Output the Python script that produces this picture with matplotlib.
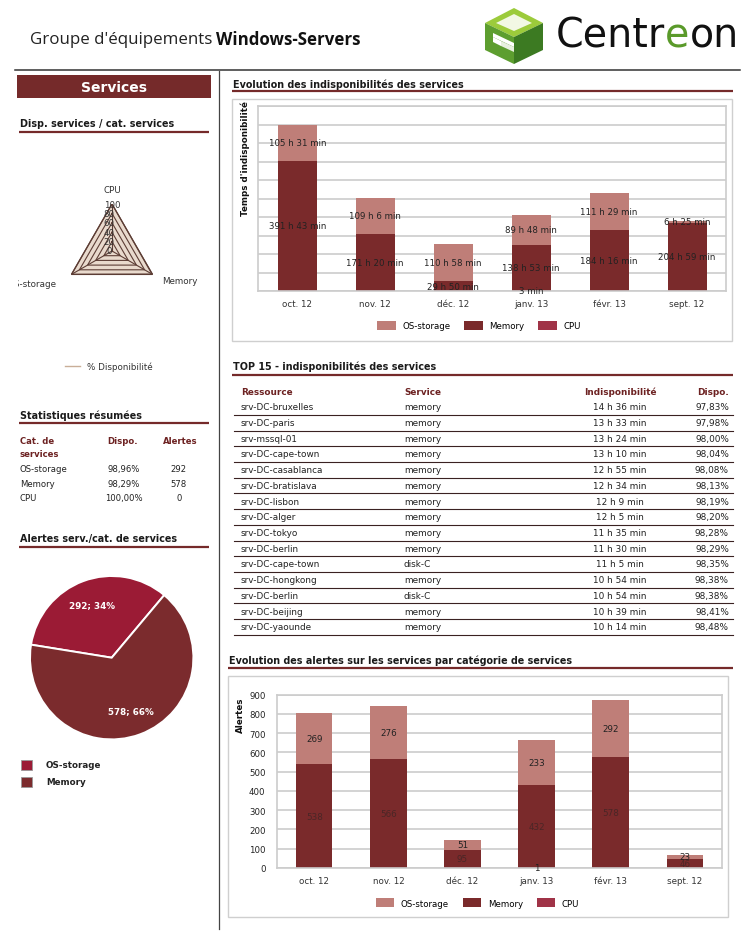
import numpy as np
import matplotlib
matplotlib.use("Agg")
import matplotlib.pyplot as plt
from matplotlib.patches import Rectangle, Polygon, Patch
from matplotlib.transforms import Bbox, offset_copy

W, H = 753, 937

# ---------------- data ----------------
months = ["oct. 12", "nov. 12", "déc. 12", "janv. 13", "févr. 13", "sept. 12"]
categories = ["OS-storage", "Memory", "CPU"]
# downtime in minutes per category
down_cpu = [0, 0, 0, 3, 0, 0]
down_mem = [23503, 10280, 1790, 8333, 11056, 12299]
down_os = [6331, 6546, 6658, 5388, 6689, 385]
# alerts per category
alert_cpu = [0, 0, 0, 1, 0, 0]
alert_mem = [538, 566, 95, 432, 578, 46]
alert_os = [269, 276, 51, 233, 292, 23]
# summary stats
stat_avail = ["98,96%", "98,29%", "100,00%"]
stat_alerts = [292, 578, 0]
# radar
radar_cats = ["CPU", "Memory", "OS-storage"]
radar_vals = [100.00, 98.29, 98.96]
radar_ticks = [0, 20, 40, 60, 80, 100]
# top 15
top_res = ["srv-DC-bruxelles", "srv-DC-paris", "srv-mssql-01", "srv-DC-cape-town",
           "srv-DC-casablanca", "srv-DC-bratislava", "srv-DC-lisbon", "srv-DC-alger",
           "srv-DC-tokyo", "srv-DC-berlin", "srv-DC-cape-town", "srv-DC-hongkong",
           "srv-DC-berlin", "srv-DC-beijing", "srv-DC-yaounde"]
top_svc = ["memory"] * 10 + ["disk-C", "memory", "disk-C", "memory", "memory"]
top_down = ["14 h 36 min", "13 h 33 min", "13 h 24 min", "13 h 10 min", "12 h 55 min",
            "12 h 34 min", "12 h 9 min", "12 h 5 min", "11 h 35 min", "11 h 30 min",
            "11 h 5 min", "10 h 54 min", "10 h 54 min", "10 h 39 min", "10 h 14 min"]
top_avail = ["97,83%", "97,98%", "98,00%", "98,04%", "98,08%", "98,13%", "98,19%",
             "98,20%", "98,28%", "98,29%", "98,35%", "98,38%", "98,38%", "98,41%", "98,48%"]

# ---------------- style ----------------
C_OS = "#bf7e78"
C_MEM = "#7a2a2b"
C_CPU = "#a03347"
C_POS = "#9b1b35"
C_PMEM = "#7b2b2d"
DARK = "#752a2a"
HEAD = "#6d2222"
GRID = "#cccccc"
TXT = "#222222"

plt.rcParams["font.family"] = ["DejaVu Sans"]

fig = plt.figure(figsize=(W / 100, H / 100), dpi=100)
bg = fig.add_axes([0, 0, 1, 1])
bg.set_xlim(0, W)
bg.set_ylim(H, 0)
bg.axis("off")


def rect(l, t, r, b):
    return [l / W, 1 - b / H, (r - l) / W, (b - t) / H]


def section(x0, x1, y, text, uy):
    bg.text(x0 + 1, y, text, fontsize=6.9, fontweight="bold", color="#1a1a1a", va="center")
    bg.plot([x0, x1], [uy, uy], color=DARK, lw=1.6, solid_capstyle="butt")


# ---------------- header ----------------
renderer = fig.canvas.get_renderer()
t1 = bg.text(30, 40, "Groupe d'équipements", fontfamily="Open Sans", fontsize=12.2,
             va="center", color="#222")
bb = t1.get_window_extent(renderer=renderer)
bg.text(bb.x1 + 4, 40, "Windows-Servers", fontfamily="Open Sans", fontsize=12.2,
        fontweight="bold", va="center", color="#111")

# logo cube
cx = 514
top_face = [(cx, 9), (543, 24), (cx, 38), (485, 24)]
left_face = [(485, 24), (cx, 38), (cx, 65), (485, 51)]
right_face = [(cx, 38), (543, 24), (543, 51), (cx, 65)]
bg.add_patch(Polygon(top_face, closed=True, fc="#9ccb3b", ec="none"))
bg.add_patch(Polygon(left_face, closed=True, fc="#5d9e2f", ec="none"))
bg.add_patch(Polygon(right_face, closed=True, fc="#3c7a22", ec="none"))
bg.add_patch(Polygon([(cx, 15), (532, 24), (cx, 32), (496, 24)], closed=True, fc="#f2f8e4", ec="none"))
bg.add_patch(Polygon([(493, 34), (cx, 44), (cx, 48), (493, 38)], closed=True, fc="white", ec="none"))
bg.add_patch(Polygon([(501, 42), (cx, 48), (cx, 53), (501, 47)], closed=True, fc="#e8f0e0", ec="none"))
bg.add_patch(Polygon([(493, 38), (501, 42), (501, 47), (493, 43)], closed=True, fc="white", ec="none"))

xpos = 556
for part, col in [("Centr", "#111111"), ("e", "#5a9a2a"), ("on", "#111111")]:
    tt = bg.text(xpos, 37, part, fontsize=28.5, color=col, va="center", ha="left",
                 fontfamily="DejaVu Sans")
    xpos = tt.get_window_extent(renderer=renderer).x1

# frame lines
bg.plot([15, 740], [71, 71], color="#333", lw=1.1)
bg.plot([219, 219], [72, 930], color="#444", lw=0.9)

# ---------------- left column ----------------
bg.add_patch(Rectangle((17, 76), 194, 23, fc=DARK, ec="none"))
bg.text(114, 88, "Services", color="white", fontsize=10, fontweight="bold", ha="center", va="center")
section(19, 209, 124, "Disp. services / cat. services", 132.5)

# radar
axr = fig.add_axes(rect(65, 205, 159, 299), projection="polar")
axr.set_facecolor("none")
theta = np.deg2rad([90, -30, 210])
tc = np.append(theta, theta[0])
axr.set_ylim(0, 100)
axr.fill(tc, np.append(radar_vals, radar_vals[0]), color="#e9dacd", zorder=1)
for r in radar_ticks[1:]:
    axr.plot(tc, [r] * 4, color="#5c3d35", lw=0.8, zorder=2)
for t in theta:
    axr.plot([t, t], [0, 100], color="#5c3d35", lw=0.8, zorder=2)
axr.plot(tc, np.append(radar_vals, radar_vals[0]), color="#5c3d35", lw=0.9, zorder=3)
axr.grid(False)
axr.spines["polar"].set_visible(False)
axr.set_xticks([])
axr.set_yticks([])
for r in radar_ticks:
    tr = offset_copy(axr.transData, fig=fig, x=(0 if r == 100 else -3), y=0, units="dots")
    axr.text(np.pi / 2, r, str(r), transform=tr, ha="center", va="center", fontsize=6.2,
             color="#333", zorder=5, clip_on=False)
axr.text(theta[0], 130, radar_cats[0], ha="center", va="center", fontsize=6.3, color="#333", clip_on=False)
axr.text(theta[1], 124, radar_cats[1], ha="left", va="center", fontsize=6.3, color="#333", clip_on=False)
tos = fig.text(theta[2], 137, radar_cats[2], transform=axr.transData, ha="right", va="center",
               fontsize=6.3, color="#333", clip_on=True)
tos.set_clip_box(Bbox.from_extents(18, 0, 219, H))

bg.plot([65, 80], [367, 367], color="#c9ae98", lw=1)
bg.text(87, 367, "% Disponibilité", fontsize=6.3, va="center", color="#333")

# stats
section(19, 209, 415.5, "Statistiques résumées", 423.5)
bg.text(20, 441.5, "Cat. de", fontsize=6.1, fontweight="bold", color=HEAD, va="center")
bg.text(20, 454.5, "services", fontsize=6.1, fontweight="bold", color=HEAD, va="center")
bg.text(123, 441.5, "Dispo.", fontsize=6.1, fontweight="bold", color=HEAD, va="center", ha="center")
bg.text(180, 441.5, "Alertes", fontsize=6.1, fontweight="bold", color=HEAD, va="center", ha="center")
for i, (c, a, n) in enumerate(zip(categories, stat_avail, stat_alerts)):
    y = 470 + i * 14.2
    bg.text(20, y, c, fontsize=6.1, va="center", color="#222")
    bg.text(124, y, a, fontsize=6.1, va="center", ha="center", color="#222")
    bg.text(179, y, str(n), fontsize=6.1, va="center", ha="center", color="#222")

section(19, 209, 539, "Alertes serv./cat. de services", 547.5)

# pie
axp = fig.add_axes(rect(30, 577, 193.4, 740.4))
pie_vals = [v for v in stat_alerts if v > 0]
pie_labels = [c for c, v in zip(categories, stat_alerts) if v > 0]
total = sum(pie_vals)
wedges, _, autotexts = axp.pie(
    pie_vals, colors=[C_POS, C_PMEM], startangle=50, counterclock=True,
    wedgeprops=dict(edgecolor="white", linewidth=1.4),
    autopct=lambda p: f"{round(p * total / 100)}; {p:.0f}%", pctdistance=0.69,
    textprops=dict(color="white", fontsize=6.3, fontweight="bold"))
axp.set_xlim(-1, 1)
axp.set_ylim(-1, 1)
axp.set_aspect("equal")
for i, (lab, col) in enumerate(zip(pie_labels, [C_POS, C_PMEM])):
    y = 761 + i * 16.5
    bg.add_patch(Rectangle((21, y), 11, 10, fc=col, ec="#999", lw=0.6))
    bg.text(46, y + 5, lab, fontsize=6.3, fontweight="bold", va="center", color="#222")

# ---------------- chart 1: downtime ----------------
section(232, 733, 84.5, "Evolution des indisponibilités des services", 92)
bg.add_patch(Rectangle((232.5, 99.5), 500, 242.5, fc="none", ec="#cfcfcf", lw=1))
ax1 = fig.add_axes(rect(258.3, 107, 726, 292))
x = np.arange(len(months))
s_cpu = np.array(down_cpu) * 60
s_mem = np.array(down_mem) * 60
s_os = np.array(down_os) * 60


def fmt_min(m):
    return f"{m // 60} h {m % 60} min" if m >= 60 else f"{m} min"


bc = ax1.bar(x, s_cpu, 0.5, color=C_CPU, zorder=2)
bm = ax1.bar(x, s_mem, 0.5, bottom=s_cpu, color=C_MEM, zorder=2)
bo = ax1.bar(x, s_os, 0.5, bottom=s_cpu + s_mem, color=C_OS, zorder=2)
for cont, vals in [(bc, down_cpu), (bm, down_mem), (bo, down_os)]:
    ax1.bar_label(cont, labels=[fmt_min(v) if v > 0 else "" for v in vals],
                  label_type="center", fontsize=6.2, color=TXT, zorder=4)
ax1.set_xlim(-0.5, len(months) - 0.5)
ax1.set_ylim(0, 2e6)
ax1.set_yticks(np.arange(0, 2e6 + 1, 2e5))
ax1.set_yticklabels([])
ax1.set_xticks(x)
ax1.set_xticklabels(months, fontsize=6.3, color="#333")
ax1.tick_params(length=0)
ax1.tick_params(axis="x", pad=6)
ax1.grid(axis="y", color=GRID, lw=1.2)
ax1.set_axisbelow(True)
for sp in ax1.spines.values():
    sp.set_color(GRID)
    sp.set_linewidth(1.2)
bg.text(245, 159, "Temps d'indisponibilité", rotation=90, fontsize=6.3, fontweight="bold",
        ha="center", va="center", color="#111")
handles = [Patch(fc=C_OS), Patch(fc=C_MEM), Patch(fc=C_CPU)]
fig.legend(handles, categories, loc="center", bbox_to_anchor=(479 / W, 1 - 326.7 / H), ncol=3,
           frameon=False, fontsize=6.2, handlelength=2.17, handleheight=1.24,
           handletextpad=0.75, columnspacing=1.6, borderaxespad=0, borderpad=0)

# ---------------- top 15 table ----------------
section(232, 733, 367, "TOP 15 - indisponibilités des services", 376)
hy = 392.5
bg.text(241, hy, "Ressource", fontsize=6.4, fontweight="bold", color=HEAD, va="center")
bg.text(404, hy, "Service", fontsize=6.4, fontweight="bold", color=HEAD, va="center")
bg.text(620, hy, "Indisponibilité", fontsize=6.4, fontweight="bold", color=HEAD, va="center", ha="center")
bg.text(729, hy, "Dispo.", fontsize=6.4, fontweight="bold", color=HEAD, va="center", ha="right")
for i in range(len(top_res)):
    y = 407.8 + i * 15.72
    bg.text(241, y, top_res[i], fontsize=6.4, color="#222", va="center")
    bg.text(404, y, top_svc[i], fontsize=6.4, color="#222", va="center")
    bg.text(620, y, top_down[i], fontsize=6.4, color="#222", va="center", ha="center")
    bg.text(729, y, top_avail[i], fontsize=6.4, color="#222", va="center", ha="right")
    bg.plot([234, 733], [y + 8, y + 8], color="#3a2222", lw=0.8)

# ---------------- chart 2: alerts ----------------
section(228, 733, 661, "Evolution des alertes sur les services par catégorie de services", 669)
bg.add_patch(Rectangle((228.5, 677), 499.5, 241, fc="none", ec="#cfcfcf", lw=1))
ax2 = fig.add_axes(rect(277.3, 695.7, 721.7, 869))
a_cpu = np.array(alert_cpu)
a_mem = np.array(alert_mem)
a_os = np.array(alert_os)
c2 = ax2.bar(x, a_cpu, 0.49, color=C_CPU, zorder=2)
m2 = ax2.bar(x, a_mem, 0.49, bottom=a_cpu, color=C_MEM, zorder=2)
o2 = ax2.bar(x, a_os, 0.49, bottom=a_cpu + a_mem, color=C_OS, zorder=2)
for cont, vals, col, fs in [(c2, alert_cpu, TXT, 6.3), (m2, alert_mem, "#4a2626", 6.3),
                            (o2, alert_os, TXT, 6.3)]:
    labs = [str(v) if v > 0 else "" for v in vals]
    ax2.bar_label(cont, labels=labs, label_type="center", fontsize=fs, color=col, zorder=4)
ax2.set_xlim(-0.5, len(months) - 0.5)
ax2.set_ylim(0, 900)
ax2.set_yticks(np.arange(0, 901, 100))
ax2.set_yticklabels([str(v) for v in range(0, 901, 100)], fontsize=6.2, color="#222")
ax2.set_xticks(x)
ax2.set_xticklabels(months, fontsize=6.3, color="#333")
ax2.tick_params(length=0)
ax2.tick_params(axis="x", pad=6)
ax2.tick_params(axis="y", pad=8.5)
ax2.grid(axis="y", color=GRID, lw=1.2)
ax2.set_axisbelow(True)
for sp in ax2.spines.values():
    sp.set_color(GRID)
    sp.set_linewidth(1.2)
bg.text(240, 715, "Alertes", rotation=90, fontsize=6.3, fontweight="bold", ha="center",
        va="center", color="#111")
fig.legend(handles, categories, loc="center", bbox_to_anchor=(477.5 / W, 1 - 904 / H), ncol=3,
           frameon=False, fontsize=6.2, handlelength=2.17, handleheight=1.24,
           handletextpad=0.75, columnspacing=1.6, borderaxespad=0, borderpad=0)

fig.savefig("out.png", dpi=100, facecolor="white")
